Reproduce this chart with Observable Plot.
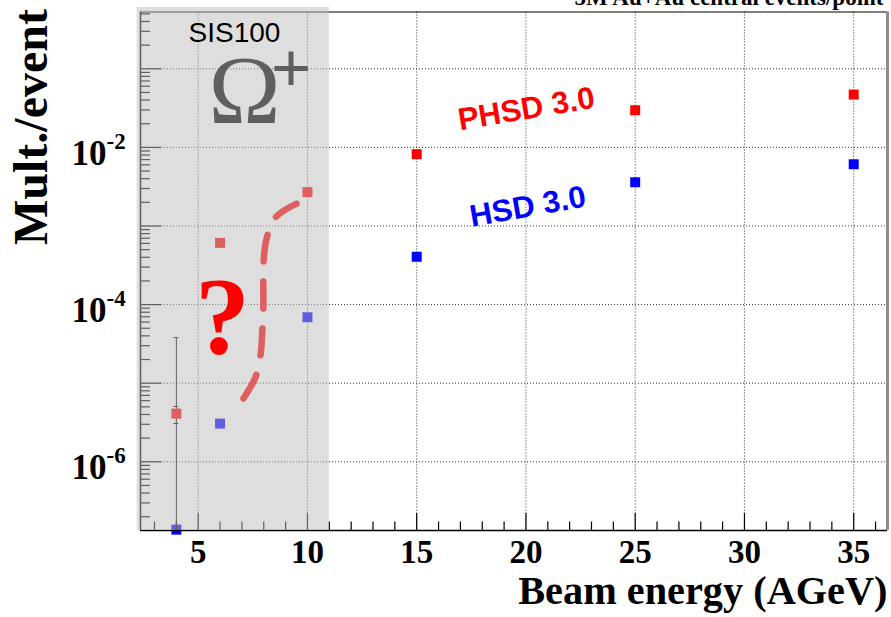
<!DOCTYPE html>
<html>
<head>
<meta charset="utf-8">
<script src="https://cdn.jsdelivr.net/npm/d3@7"></script>
<script src="https://cdn.jsdelivr.net/npm/@observablehq/plot@0.6"></script>
<style>
html,body{margin:0;padding:0;background:#fff;}
#chart svg{display:block;}
</style>
</head>
<body>
<div id="chart"></div>
<script>
// ---- data ----
const energies = [4, 6, 10, 15, 25, 35];
const phsd = [4.1e-6, 6.1e-4, 2.7e-3, 8.2e-3, 2.97e-2, 4.7e-2];
const hsd = [1.37e-7, 3.06e-6, 6.9e-5, 4.06e-4, 3.6e-3, 6.1e-3];
const errX = [4];
const errHigh = [3.8e-5];
const errCaps = [3.8e-5, 5.06e-6, 3.07e-6];
const curveE = [7.07, 7.62, 7.85, 7.93, 7.98, 7.98, 7.99, 8.13, 8.54, 9.50];
const curveM = [6.38e-6, 1.19e-5, 2.25e-5, 4.46e-5, 8.9e-5, 1.75e-4, 3.43e-4, 6.93e-4, 1.29e-3, 1.93e-3];
const sisRange = [2.359, 11.0];
const xTicks = [5, 10, 15, 20, 25, 30, 35];
const xMinorTicks = [3,4,6,7,8,9,11,12,13,14,16,17,18,19,21,22,23,24,26,27,28,29,31,32,33,34,36];
const yDecades = [1e-6, 1e-5, 1e-4, 1e-3, 1e-2, 1e-1];
const yLabelTicks = [1e-6, 1e-4, 1e-2];
const yLabelBase = ["10", "10", "10"];
const yLabelExp = ["-6", "-4", "-2"];
const xDomain = [2.359, 36.547];
const yDomain = [1.336e-7, 0.528];

// minor log ticks 2..9 per decade inside domain
const yMinor = [];
for (let k = -7; k <= -1; k++) for (let m = 2; m <= 9; m++) {
  const v = m * Math.pow(10, k);
  if (v >= yDomain[0] && v <= yDomain[1]) yMinor.push(v);
}

const W = 891, H = 617;
const mT = 11.5, mR = 4, mB = 87, mL = 140;
const frameW = W - mL - mR, frameH = H - mT - mB;

const phsdData = energies.map((e, i) => ({e, m: phsd[i]}));
const hsdData = energies.map((e, i) => ({e, m: hsd[i]}));
const curveData = curveE.map((e, i) => ({e, m: curveM[i]}));

const SERIF = "Liberation Serif, Times New Roman, serif";
const SANS = "Liberation Sans, Arial, sans-serif";
const grid = {stroke: "#333", strokeDasharray: "1,2", strokeWidth: 1};

const chart = Plot.plot({
  width: W, height: H,
  marginTop: mT, marginRight: mR, marginBottom: mB, marginLeft: mL,
  style: {fontFamily: SERIF, background: "#fff", overflow: "visible"},
  x: {domain: xDomain, axis: null},
  y: {type: "log", domain: yDomain, axis: null},
  marks: [
    // grid
    Plot.ruleX(xTicks, {x: d => d, ...grid}),
    Plot.ruleY(yDecades, {y: d => d, ...grid}),
    // Omega label (under the overlay)
    Plot.text(["\u03A9"], {x: 7.12, y: 0.0207, fontSize: 97, fontFamily: SERIF, lineAnchor: "bottom", textAnchor: "middle", fill: "#000"}),
    Plot.text(["+"], {x: 9.25, y: 0.05, fontSize: 72, fontWeight: "bold", fontFamily: SERIF, lineAnchor: "bottom", textAnchor: "middle", fill: "#000"}),
    // dashed curve
    Plot.line(curveData, {x: "e", y: "m", curve: "catmull-rom", stroke: "#ff0000", strokeWidth: 6.5, strokeDasharray: "27,20"}),
    // error bars
    Plot.ruleX(errX, {x: d => d, y1: yDomain[0], y2: (d, i) => errHigh[i], stroke: "#000", strokeWidth: 1}),
    Plot.ruleY(errCaps, {y: d => d, x1: errX[0], x2: errX[0], insetLeft: -2.5, insetRight: -2.5, stroke: "#000", strokeWidth: 1}),
    // points
    Plot.dot(phsdData, {x: "e", y: "m", symbol: "square", r: 5.64, fill: "#ff0000", stroke: "none"}),
    Plot.dot(hsdData, {x: "e", y: "m", symbol: "square", r: 5.64, fill: "#0000ff", stroke: "none"}),
    // ticks
    Plot.tickX(xTicks, {x: d => d, insetTop: frameH - 17, stroke: "#000", strokeWidth: 1.2}),
    Plot.tickX(xMinorTicks, {x: d => d, insetTop: frameH - 8.5, stroke: "#000", strokeWidth: 1.2}),
    Plot.tickY(yDecades, {y: d => d, insetRight: frameW - 21, stroke: "#000", strokeWidth: 1.2}),
    Plot.tickY(yMinor, {y: d => d, insetRight: frameW - 10, stroke: "#000", strokeWidth: 1.2}),
    // frame
    Plot.ruleY([yDomain[1]], {y: d => d, stroke: "#000", strokeWidth: 1}),
    Plot.ruleY([yDomain[0]], {y: d => d, stroke: "#000", strokeWidth: 1.5}),
    Plot.ruleX([xDomain[0]], {x: d => d, stroke: "#000", strokeWidth: 1.5}),
    Plot.ruleX([xDomain[1]], {x: d => d, stroke: "#8c8c8c", strokeWidth: 3}),
    // SIS100 shaded overlay
    Plot.rect([0], {x1: sisRange[0], x2: sisRange[1], y1: yDomain[0], y2: yDomain[1], insetLeft: -3.3, insetTop: -4.5, fill: "#bdbdbd", fillOpacity: 0.5}),
    // top annotations
    Plot.text(["SIS100"], {x: 6.66, y: 0.218, fontSize: 28, fontFamily: SANS, lineAnchor: "bottom", textAnchor: "middle", fill: "#000"}),
    Plot.text(["?"], {x: 6.11, y: 2.39e-5, fontSize: 110, fontWeight: "bold", fontFamily: SERIF, lineAnchor: "bottom", textAnchor: "middle", fill: "#ff0000"}),
    Plot.text(["PHSD 3.0"], {x: 20.09, y: 0.0231, rotate: -9.5, fontSize: 31, fontWeight: "bold", fontFamily: SANS, lineAnchor: "bottom", textAnchor: "middle", fill: "#ff0000"}),
    Plot.text(["HSD 3.0"], {x: 20.16, y: 1.32e-3, rotate: -10, fontSize: 31, fontWeight: "bold", fontFamily: SANS, lineAnchor: "bottom", textAnchor: "middle", fill: "#0000ff"}),
    // tick labels
    Plot.text(xTicks, {x: d => d, text: d => String(d), frameAnchor: "bottom", dy: 32.5, lineAnchor: "bottom", textAnchor: "middle", fontSize: 33, fontWeight: "bold", fontFamily: SERIF, fill: "#000"}),
    Plot.text(yLabelTicks, {y: d => d, text: (d, i) => yLabelBase[i], frameAnchor: "left", dx: -34, dy: 17.5, lineAnchor: "bottom", textAnchor: "end", fontSize: 35, fontWeight: "bold", fontFamily: SERIF, fill: "#000"}),
    Plot.text(yLabelTicks, {y: d => d, text: (d, i) => yLabelExp[i], frameAnchor: "left", dx: -34, dy: 1.5, lineAnchor: "bottom", textAnchor: "start", fontSize: 23, fontWeight: "bold", fontFamily: SERIF, fill: "#000"}),
    // axis titles
    Plot.text(["Beam energy (AGeV)"], {frameAnchor: "bottom-right", dy: 73.3, lineAnchor: "bottom", textAnchor: "end", fontSize: 40.3, fontWeight: "bold", fontFamily: SERIF, fill: "#000"}),
    Plot.text(["Mult./event"], {frameAnchor: "top-left", dx: -93.3, dy: 115, rotate: -90, lineAnchor: "bottom", textAnchor: "middle", fontSize: 48, fontWeight: "bold", fontFamily: SERIF, fill: "#000"}),
    Plot.text(["5M Au+Au central events/point"], {frameAnchor: "top-right", dx: -4, dy: -7, lineAnchor: "bottom", textAnchor: "end", fontSize: 23, fontWeight: "bold", fontFamily: SERIF, fill: "#000"})
  ]
});
document.getElementById("chart").appendChild(chart);
</script>
</body>
</html>
